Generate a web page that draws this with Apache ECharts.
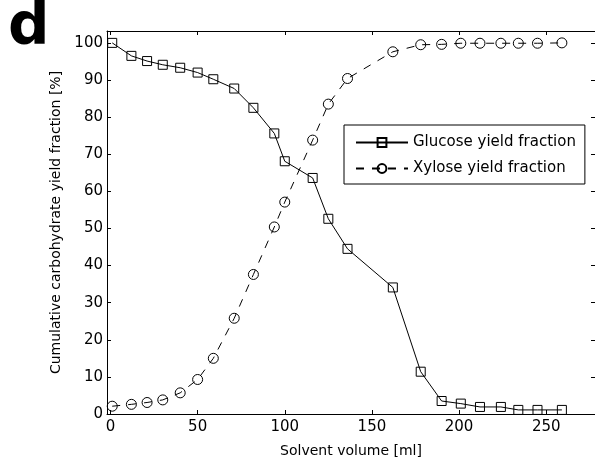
<!DOCTYPE html>
<html>
<head>
    <meta charset='utf-8'>
    <script src="https://cdn.jsdelivr.net/npm/echarts@6/dist/echarts.min.js"></script>
</head>
<body>
<style>
    html, body, #main {
        width: 595px;
        height: 464px;
        margin: 0;
        padding: 0;
        background: #fff;
    }
</style>
<div id="main"></div>
<script>
    // solvent volume [ml], shared by both series
    var volume = [1, 12, 21, 30, 40, 50, 59, 71, 82, 94, 100, 116, 125, 136, 162, 178, 190, 201, 212, 224, 234, 245, 259];
    var glucose = [100, 96.5, 95.1, 94.1, 93.3, 92.0, 90.2, 87.7, 82.5, 75.6, 68.1, 63.6, 52.6, 44.5, 34.1, 11.4, 3.5, 2.8, 1.9, 1.9, 1.1, 1.1, 1.1];
    var xylose = [2.1, 2.6, 3.1, 3.8, 5.7, 9.3, 15.0, 25.8, 37.6, 50.4, 57.1, 73.8, 83.5, 90.4, 97.6, 99.5, 99.6, 99.9, 99.9, 99.9, 99.9, 99.9, 100];
    var xTicks = [0, 50, 100, 150, 200, 250];
    var yTicks = [0, 10, 20, 30, 40, 50, 60, 70, 80, 90, 100];

    function pairs(xs, ys) {
        return xs.map(function (x, i) { return [x, ys[i]]; });
    }

    var font = 'DejaVu Sans';
    var chart = echarts.init(document.getElementById('main'));

    function xAxisDef(pos, show) {
        return {
            type: 'value', position: pos, min: -2, max: 278,
            name: show ? 'Solvent volume [ml]' : '',
            nameLocation: 'middle', nameGap: 30,
            nameTextStyle: {fontFamily: font, fontSize: 14, color: '#000'},
            axisLine: {onZero: false, lineStyle: {color: '#000', width: 1}},
            axisTick: {show: true, inside: true, length: 4, customValues: xTicks, lineStyle: {color: '#000'}},
            axisLabel: {show: show, customValues: xTicks, fontFamily: font, fontSize: 15, color: '#000', margin: 6},
            splitLine: {show: false}
        };
    }

    function yAxisDef(pos, show) {
        return {
            type: 'value', position: pos, min: 0, max: 103.2,
            name: show ? 'Cumulative carbohydrate yield fraction [%]' : '',
            nameLocation: 'middle', nameGap: 40,
            nameTextStyle: {fontFamily: font, fontSize: 14, color: '#000'},
            axisLine: {onZero: false, lineStyle: {color: '#000', width: 1}},
            axisTick: {show: true, inside: true, length: 4, customValues: yTicks, lineStyle: {color: '#000'}},
            axisLabel: {show: show, customValues: yTicks, fontFamily: font, fontSize: 15, color: '#000', margin: 4},
            splitLine: {show: false}
        };
    }

    chart.setOption({
        animation: false,
        backgroundColor: '#fff',
        // right edge of the frame is cropped off in the original figure
        grid: {left: 107, top: 31, right: -1, bottom: 50},
        xAxis: [xAxisDef('bottom', true), xAxisDef('top', false)],
        yAxis: [yAxisDef('left', true), yAxisDef('right', false)],
        legend: {
            orient: 'vertical',
            left: 344, top: 125,
            padding: [10, 9, 8, 11],
            itemGap: 11,
            itemWidth: 52, itemHeight: 11,
            borderColor: '#000', borderWidth: 1,
            backgroundColor: '#fff',
            textStyle: {fontFamily: font, fontSize: 15, color: '#000'},
            data: ['Glucose yield fraction', 'Xylose yield fraction']
        },
        graphic: [{
            type: 'text', left: 8, top: 0,
            style: {text: 'd', font: 'bold 58px "DejaVu Sans"', fill: '#000'}
        }],
        series: [{
            name: 'Glucose yield fraction',
            type: 'line',
            data: pairs(volume, glucose),
            symbol: 'rect', symbolSize: 9,
            itemStyle: {color: 'rgba(0,0,0,0)', borderColor: '#000', borderWidth: 1},
            lineStyle: {color: '#000', width: 1, type: 'solid'}
        }, {
            name: 'Xylose yield fraction',
            type: 'line',
            data: pairs(volume, xylose),
            symbol: 'circle', symbolSize: 10,
            itemStyle: {color: 'rgba(0,0,0,0)', borderColor: '#000', borderWidth: 1},
            lineStyle: {color: '#000', width: 1, type: [8, 8]}
        }]
    });
</script>
</body>
</html>
